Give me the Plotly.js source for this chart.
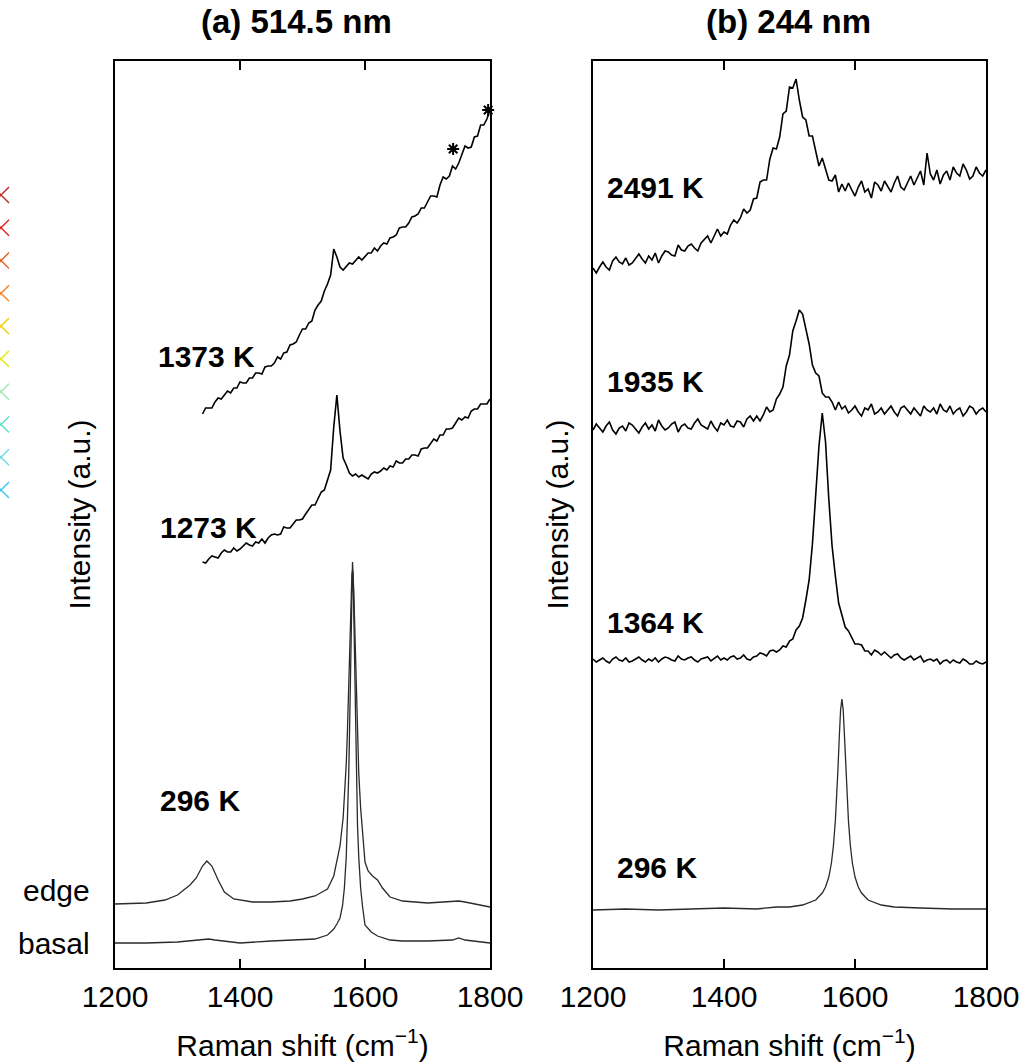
<!DOCTYPE html>
<html>
<head>
<meta charset="utf-8">
<script src="https://cdn.plot.ly/plotly-3.0.1.min.js"></script>
<style>
  html, body { margin: 0; padding: 0; background: #ffffff; }
  #chart { width: 1032px; height: 1064px; }
</style>
</head>
<body>
<div id="chart"></div>
<script>
// ---------- Panel (a) 514.5 nm ----------
// 296 K, basal plane
const basalShift = [1200,1250,1300,1340,1350,1360,1400,1450,1500,1520,1540,1550,1555,1560,1564,1567,1570,1572,1574,1575,1576,1577,1578,1579,1580,1581,1582,1583,1584,1585,1586,1588,1590,1593,1596,1600,1610,1620,1640,1660,1700,1740,1750,1760,1800];
const basalInt   = [25,25,26,28,29,28,25,27,28,29,33,39,44,50,62,80,111,143,194,228,269,314,359,393,406,393,359,314,269,228,194,143,111,80,62,43,36,32,28,27,27,28,30,28,25];

// 296 K, edge plane
const edgeShift = [1200,1250,1280,1300,1320,1330,1340,1347,1355,1365,1375,1390,1420,1450,1480,1500,1520,1540,1550,1560,1565,1570,1572,1574,1575,1576,1577,1578,1579,1580,1581,1582,1583,1584,1585,1586,1588,1590,1593,1596,1600,1605,1612,1620,1628,1640,1660,1700,1740,1750,1760,1800];
const edgeInt   = [64,65,68,73,83,90,102,107,102,88,76,69,66,66,67,69,72,79,92,122,150,204,239,284,309,334,359,379,393,398,392,378,357,331,304,278,232,195,160,133,106,97,92,88,80,71,67,65,66,67,66,61];

// 1273 K and 1373 K (shared wavenumber grid)
const hotShiftA = [1340,1345,1350,1355,1360,1365,1370,1375,1380,1385,
  1390,1395,1400,1405,1410,1415,1420,1425,1430,1435,
  1440,1445,1450,1455,1460,1465,1470,1475,1480,1485,
  1490,1495,1500,1505,1510,1515,1520,1525,1530,1535,
  1540,1545,1550,1555,1560,1565,1570,1575,1580,1585,
  1590,1595,1600,1605,1610,1615,1620,1625,1630,1635,
  1640,1645,1650,1655,1660,1665,1670,1675,1680,1685,
  1690,1695,1700,1705,1710,1715,1720,1725,1730,1735,
  1740,1745,1750,1755,1760,1765,1770,1775,1780,1785,
  1790,1795,1800];
const int1273 = [406,405,409,412,411,410,415,418,416,416,
  420,417,419,422,425,423,422,426,425,429,
  425,430,433,434,433,434,441,440,440,444,
  448,448,449,454,458,463,463,470,476,478,
  487,498,541,573,537,510,503,495,492,494,
  491,493,491,489,494,496,495,497,500,498,
  502,501,507,505,505,509,509,513,513,512,
  519,520,520,524,529,527,533,533,539,539,
  540,545,550,548,551,550,557,559,559,564,
  564,564,569];
const int1373 = [554,560,560,560,566,570,569,573,577,575,
  580,580,586,585,585,590,590,595,595,594,
  601,602,602,605,611,609,615,616,623,624,
  626,633,639,639,645,647,658,663,667,677,
  684,693,719,711,701,698,701,705,704,708,
  711,708,712,715,715,720,717,722,725,724,
  730,731,733,740,741,741,745,751,752,754,
  760,760,766,772,772,771,783,791,789,792,
  802,799,805,813,822,820,821,831,832,843,
  843,849,858];

// asterisk marks on the 1373 K spectrum
const starShift = [1741, 1797];
const starInt   = [819, 858];

// ---------- Panel (b) 244 nm ----------
const s296bShift = [1200,1250,1300,1350,1400,1450,1480,1500,1520,1540,1550,1555,1560,1564,1567,1570,1572,1574,1576,1578,1580,1582,1584,1586,1588,1590,1593,1596,1600,1605,1610,1620,1640,1660,1700,1750,1800];
const s296bInt   = [58,59,58,59,60,59,61,61,63,68,75,81,91,105,122,147,170,199,231,258,269,258,231,199,170,147,122,105,91,81,75,68,63,61,60,59,59];

const hotShiftB = [1200,1205,1210,1215,1220,1225,1230,1235,1240,1245,
  1250,1255,1260,1265,1270,1275,1280,1285,1290,1295,
  1300,1305,1310,1315,1320,1325,1330,1335,1340,1345,
  1350,1355,1360,1365,1370,1375,1380,1385,1390,1395,
  1400,1405,1410,1415,1420,1425,1430,1435,1440,1445,
  1450,1455,1460,1465,1470,1475,1480,1485,1490,1495,
  1500,1505,1510,1515,1520,1525,1530,1535,1540,1545,
  1550,1555,1560,1565,1570,1575,1580,1585,1590,1595,
  1600,1605,1610,1615,1620,1625,1630,1635,1640,1645,
  1650,1655,1660,1665,1670,1675,1680,1685,1690,1695,
  1700,1705,1710,1715,1720,1725,1730,1735,1740,1745,
  1750,1755,1760,1765,1770,1775,1780,1785,1790,1795,
  1800];
const int1364 = [309,306,308,310,307,305,309,311,308,307,
  310,306,307,309,311,308,306,309,307,310,
  306,309,311,310,308,307,312,309,308,310,
  311,308,306,309,310,311,307,310,312,308,
  310,308,311,312,309,310,313,309,308,311,
  312,315,314,312,317,318,316,318,322,321,
  327,329,338,342,350,368,388,424,470,522,
  555,526,469,422,392,365,353,341,337,330,
  324,324,323,317,317,313,318,316,313,316,
  313,310,313,314,310,308,310,312,308,310,
  312,306,308,309,307,309,304,307,308,305,
  308,306,305,309,307,304,304,307,305,304,
  306];
const int1935 = [538,544,540,536,542,546,538,534,540,542,
  537,545,543,539,535,541,545,539,543,537,
  548,542,538,540,544,546,536,542,544,540,
  539,545,549,543,541,539,547,541,537,545,
  543,548,542,541,547,546,541,549,552,547,
  552,547,553,561,556,558,569,574,581,602,
  613,637,647,658,654,638,624,603,595,592,
  575,571,571,566,558,566,559,562,555,558,
  562,556,552,560,558,564,554,556,560,554,
  558,562,556,552,560,562,558,554,560,556,
  552,562,558,556,560,554,564,558,556,562,
  554,558,560,552,556,562,560,554,558,560,
  556];
const int2491 = [700,695,701,706,701,698,707,711,706,704,
  710,703,705,710,714,709,705,712,708,715,
  705,712,717,716,713,712,723,718,717,722,
  724,720,717,725,728,732,725,733,739,732,
  736,734,743,748,745,750,759,755,758,769,
  770,786,788,788,809,820,819,831,854,857,
  881,880,889,868,851,848,832,832,818,802,
  810,800,788,787,793,776,784,777,785,778,
  772,781,787,776,779,770,786,783,777,787,
  781,776,785,792,781,778,785,792,783,790,
  797,783,815,794,788,798,784,793,797,788,
  801,795,792,804,798,789,792,801,795,792,
  798];

// ---------- Labels ----------
const labelsA = ["1373 K", "1273 K", "296 K"];
const labelsAx = [1346, 1350, 1336];
const labelsAy = [611, 441, 168];
const sideLabels = ["edge", "basal"];
const sideLabelsY = [78, 25];
const labelsB = ["2491 K", "1935 K", "1364 K", "296 K"];
const labelsBx = [1295, 1295, 1295, 1298];
const labelsBy = [780, 586, 346, 101];
const panelTitles = ["(a) 514.5 nm", "(b) 244 nm"];

// cut-off colour key at the left edge
const keyIdx = [0,1,2,3,4,5,6,7,8,9];
const keyPos = [1,1,1,1,1,1,1,1,1,1];
const keyColors = ["#c0302c","#e02a22","#e8652a","#f08a34","#f2d21e","#e6ea30","#a4e8b4","#64e0c4","#74d8ea","#44c6f0"];

// ---------- Build ----------
const FONT = "Liberation Sans, Arial, Helvetica, sans-serif";
const FS = 30;
const FS_TITLE = 33;
const smoothLine = {color: "#2a2a2a", width: 1.3};
const noisyLine = {color: "#000000", width: 1.6};

const traces = [
  {x: basalShift, y: basalInt, xaxis: "x", yaxis: "y", mode: "lines", line: smoothLine, hoverinfo: "skip"},
  {x: edgeShift, y: edgeInt, xaxis: "x", yaxis: "y", mode: "lines", line: smoothLine, hoverinfo: "skip"},
  {x: hotShiftA, y: int1273, xaxis: "x", yaxis: "y", mode: "lines", line: noisyLine, hoverinfo: "skip"},
  {x: hotShiftA, y: int1373, xaxis: "x", yaxis: "y", mode: "lines", line: noisyLine, hoverinfo: "skip"},
  {x: starShift, y: starInt, xaxis: "x", yaxis: "y", mode: "markers", cliponaxis: false,
   marker: {symbol: "asterisk-open", size: 10, color: "#000", line: {color: "#000", width: 2}}, hoverinfo: "skip"},
  {x: s296bShift, y: s296bInt, xaxis: "x2", yaxis: "y2", mode: "lines", line: smoothLine, hoverinfo: "skip"},
  {x: hotShiftB, y: int1364, xaxis: "x2", yaxis: "y2", mode: "lines", line: noisyLine, hoverinfo: "skip"},
  {x: hotShiftB, y: int1935, xaxis: "x2", yaxis: "y2", mode: "lines", line: noisyLine, hoverinfo: "skip"},
  {x: hotShiftB, y: int2491, xaxis: "x2", yaxis: "y2", mode: "lines", line: noisyLine, hoverinfo: "skip"},
  {x: keyPos, y: keyIdx, xaxis: "x3", yaxis: "y3", mode: "markers", cliponaxis: false,
   marker: {symbol: "x-thin-open", size: 16, color: keyColors, line: {color: keyColors, width: 1.5}}, hoverinfo: "skip"}
];

const W = 1032, H = 1064;
const frameTop = 61, frameBottom = 968;
const yDom = [1 - frameBottom / H, 1 - frameTop / H];

function xAxis(dom, anchor) {
  return {
    domain: dom, anchor: anchor, range: [1200, 1800],
    tickvals: [1200, 1400, 1600, 1800], ticktext: ["1200", "1400", "1600", "1800"],
    ticks: "inside", ticklen: 9, tickwidth: 2, tickcolor: "#000",
    showline: true, linecolor: "#000", linewidth: 2, mirror: "ticks",
    showgrid: false, zeroline: false,
    tickfont: {family: FONT, size: FS, color: "#000"},
    ticklabelstandoff: 1,
    title: {text: "Raman shift (cm<sup>\u22121</sup>)", font: {family: FONT, size: FS, color: "#000"}, standoff: 23}
  };
}
function yAxis(anchor) {
  return {
    domain: yDom, anchor: anchor, range: [0, 907],
    showticklabels: false, ticks: "", showgrid: false, zeroline: false,
    showline: true, linecolor: "#000", linewidth: 2, mirror: true,
    title: {text: "Intensity (a.u.)", font: {family: FONT, size: FS, color: "#000"}, standoff: 14}
  };
}

const annotations = [];
for (let i = 0; i < labelsA.length; i++) {
  annotations.push({xref: "x", yref: "y", x: labelsAx[i], y: labelsAy[i], text: "<b>" + labelsA[i] + "</b>",
    showarrow: false, xanchor: "center", yanchor: "middle", font: {family: FONT, size: FS, color: "#000"}});
}
for (let i = 0; i < sideLabels.length; i++) {
  annotations.push({xref: "paper", yref: "y", x: 92 / W, y: sideLabelsY[i], text: sideLabels[i],
    showarrow: false, xanchor: "right", yanchor: "middle", font: {family: FONT, size: FS, color: "#000"}});
}
for (let i = 0; i < labelsB.length; i++) {
  annotations.push({xref: "x2", yref: "y2", x: labelsBx[i], y: labelsBy[i], text: "<b>" + labelsB[i] + "</b>",
    showarrow: false, xanchor: "center", yanchor: "middle", font: {family: FONT, size: FS, color: "#000"}});
}
const titleX = [296 / W, 788 / W];
for (let i = 0; i < panelTitles.length; i++) {
  annotations.push({xref: "paper", yref: "paper", x: titleX[i], y: 1 - 22 / H, text: "<b>" + panelTitles[i] + "</b>",
    showarrow: false, xanchor: "center", yanchor: "middle", font: {family: FONT, size: FS_TITLE, color: "#000"}});
}

const layout = {
  width: W, height: H,
  margin: {l: 0, r: 0, t: 0, b: 0, pad: 0},
  paper_bgcolor: "#fff", plot_bgcolor: "#fff",
  showlegend: false,
  font: {family: FONT, color: "#000"},
  xaxis: xAxis([115 / W, 490 / W], "y"),
  yaxis: yAxis("x"),
  xaxis2: xAxis([593 / W, 986 / W], "y2"),
  yaxis2: yAxis("x2"),
  xaxis3: {domain: [0, 0.01], range: [0, 10], visible: false, anchor: "y3", fixedrange: true},
  yaxis3: {domain: [1 - 490 / H, 1 - 195 / H], range: [9, 0], visible: false, anchor: "x3", fixedrange: true},
  annotations: annotations
};

Plotly.newPlot("chart", traces, layout, {staticPlot: true, displayModeBar: false});
</script>
</body>
</html>
